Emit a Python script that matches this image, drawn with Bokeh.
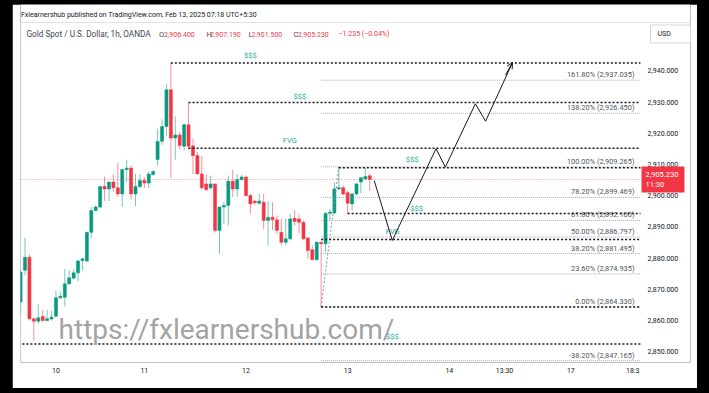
from bokeh.plotting import figure
from bokeh.models import (ColumnDataSource, FixedTicker, NumeralTickFormatter, Label,
                          Arrow, OpenHead, Range1d)
from bokeh.core.properties import value
from bokeh.embed import file_html
from bokeh.resources import INLINE

# ---------------- data ----------------
bar_index = list(range(-1, 79))
opens = [2866.0, 2876.1, 2880.3, 2860.6, 2859.8, 2861.3, 2860.0, 2860.5, 2861.4, 2867.3,
         2867.5, 2871.8, 2873.6, 2875.3, 2879.3, 2879.1, 2888.3, 2895.3, 2896.4, 2903.0,
         2902.2, 2904.4, 2902.6, 2900.6, 2908.4, 2908.9, 2900.6, 2903.0, 2904.9, 2904.1,
         2906.8, 2911.6, 2917.5, 2922.2, 2934.0, 2918.5, 2919.5, 2915.9, 2922.8, 2916.0,
         2912.9, 2907.0, 2903.8, 2902.6, 2903.8, 2888.9, 2896.4, 2896.9, 2904.7, 2902.2,
         2905.2, 2906.0, 2900.1, 2898.3, 2897.6, 2897.9, 2892.1, 2893.1, 2892.3, 2888.3,
         2885.1, 2886.2, 2892.8, 2892.6, 2891.5, 2886.5, 2882.7, 2879.5, 2885.1, 2884.6,
         2894.4, 2894.5, 2902.2, 2902.6, 2901.0, 2897.4, 2900.6, 2904.4, 2905.4, 2906.4]
highs = [2876.6, 2886.5, 2881.2, 2860.9, 2865.2, 2863.5, 2863.5, 2863.2, 2869.7, 2869.4,
         2876.6, 2876.1, 2876.4, 2879.5, 2880.1, 2888.3, 2896.4, 2896.9, 2903.0, 2906.2,
         2904.4, 2906.8, 2910.6, 2908.6, 2911.6, 2909.7, 2907.0, 2906.8, 2906.0, 2907.8,
         2908.1, 2921.5, 2924.5, 2935.9, 2942.6, 2925.4, 2920.4, 2923.1, 2929.9, 2918.3,
         2914.0, 2912.9, 2906.8, 2906.5, 2903.9, 2896.4, 2898.0, 2906.5, 2908.4, 2907.0,
         2906.7, 2906.5, 2900.6, 2898.5, 2900.6, 2900.6, 2898.3, 2897.9, 2893.7, 2892.6,
         2892.6, 2894.2, 2895.5, 2894.0, 2892.1, 2886.7, 2884.1, 2885.5, 2885.4, 2894.6,
         2895.8, 2904.4, 2909.27, 2903.3, 2901.7, 2900.8, 2904.1, 2906.0, 2908.9, 2907.19]
lows = [2862.2, 2874.5, 2860.0, 2853.4, 2859.0, 2859.5, 2859.8, 2860.0, 2861.1, 2867.0,
        2864.5, 2871.3, 2873.4, 2872.6, 2876.1, 2878.7, 2886.5, 2895.0, 2896.1, 2898.3,
        2898.3, 2901.2, 2899.6, 2896.4, 2904.4, 2898.8, 2896.7, 2902.5, 2902.5, 2902.5,
        2906.5, 2909.7, 2916.3, 2919.3, 2905.7, 2911.6, 2914.8, 2914.5, 2914.8, 2907.0,
        2907.0, 2901.9, 2901.7, 2901.9, 2888.3, 2881.4, 2891.0, 2890.5, 2899.6, 2899.8,
        2904.9, 2899.6, 2894.2, 2897.0, 2897.2, 2889.4, 2884.1, 2889.0, 2887.8, 2884.1,
        2884.1, 2885.7, 2890.5, 2888.0, 2885.7, 2879.8, 2879.5, 2879.3, 2864.33, 2881.9,
        2892.1, 2894.2, 2901.9, 2900.1, 2894.3, 2895.3, 2900.1, 2900.8, 2905.1, 2901.5]
closes = [2875.5, 2880.3, 2860.6, 2859.8, 2860.9, 2860.0, 2860.6, 2861.1, 2867.3, 2867.8,
          2871.8, 2873.7, 2875.3, 2879.1, 2879.8, 2888.3, 2895.3, 2896.4, 2903.0, 2902.2,
          2904.4, 2902.6, 2900.6, 2908.4, 2908.9, 2900.6, 2903.0, 2904.9, 2904.1, 2907.0,
          2907.8, 2917.4, 2922.2, 2934.0, 2918.5, 2919.5, 2916.1, 2922.8, 2915.9, 2912.9,
          2907.0, 2902.6, 2901.9, 2903.8, 2888.9, 2896.4, 2896.9, 2904.7, 2902.2, 2905.2,
          2906.0, 2900.1, 2897.4, 2897.8, 2898.3, 2892.1, 2893.1, 2892.3, 2888.9, 2885.1,
          2886.2, 2892.6, 2891.8, 2891.5, 2886.2, 2882.5, 2879.5, 2885.1, 2884.6, 2894.4,
          2894.8, 2902.2, 2902.6, 2900.6, 2897.6, 2900.6, 2903.8, 2905.8, 2906.2, 2905.23]

price_ticks = [2850, 2860, 2870, 2880, 2890, 2900, 2910, 2920, 2930, 2940]
time_tick_pos = [7, 27, 50, 73, 96, 108.5, 123.5, 137.5]
time_tick_labels = ["10", "11", "12", "13", "14", "13:30", "17", "18:3"]

fib_ratios = ["161.80%", "138.20%", "100.00%", "78.20%", "61.80%", "50.00%",
              "38.20%", "23.60%", "0.00%", "-38.20%"]
fib_prices = [2937.035, 2926.450, 2909.265, 2899.469, 2892.100, 2886.797,
              2881.495, 2874.935, 2864.330, 2847.165]
fib_anchor_bar = 67
fib_anchor_top_bar = 71

level_prices = [2942.6, 2929.9, 2915.2, 2909.0, 2894.3, 2886.0, 2864.33, 2852.5]
level_start_bar = [33, 37, 37, 71, 73, 67, 67, -1.5]

tag_texts = ["$$$", "$$$", "FVG", "$$$", "$$$", "FVG", "$$$"]
tag_bar = [51, 62.2, 59.9, 87.6, 88.6, 83.2, 83.1]
tag_price = [2943.4, 2930.5, 2916.4, 2910.2, 2894.6, 2887.1, 2853.6]

proj_bar = [79.0, 83.1, 93.0, 95.1, 101.9, 104.2, 110.3]
proj_price = [2904.9, 2885.7, 2915.1, 2909.2, 2929.5, 2923.9, 2942.7]

last_price = 2905.23
ohlc_header = ["2,906.400", "2,907.190", "2,901.500", "2,905.230"]

# ---------------- figure ----------------
UP = "#089981"
DOWN = "#f23645"
FONT = "Roboto"
X_LEFT = -1.02
X_RIGHT = 139.25      # right edge of the price pane
X_END = 150.57        # right edge of the white panel
Y_BOTTOM = 2846.57
Y_TOP = 2961.31
Y_CONTAINER = 2955.54

p = figure(width=685, height=384,
           x_range=Range1d(X_LEFT, X_END), y_range=Range1d(Y_BOTTOM, Y_TOP),
           output_backend="svg", toolbar_location=None, y_axis_location="right",
           min_border_left=8, min_border_right=7, min_border_top=0, min_border_bottom=26,
           background_fill_color="white", border_fill_color="white")
p.xgrid.visible = False
p.ygrid.visible = False
p.outline_line_color = None

p.yaxis.fixed_location = X_RIGHT
p.yaxis.ticker = FixedTicker(ticks=price_ticks)
p.yaxis.formatter = NumeralTickFormatter(format="0,0.000")
p.xaxis.ticker = FixedTicker(ticks=time_tick_pos)
p.xaxis.major_label_overrides = {k: v for k, v in zip(time_tick_pos, time_tick_labels)}
for ax in (p.xaxis[0], p.yaxis[0]):
    ax.axis_line_color = None
    ax.major_tick_line_color = None
    ax.minor_tick_line_color = None
    ax.major_tick_out = 0
    ax.major_tick_in = 0
    ax.minor_tick_out = 0
    ax.major_label_text_font_size = "7px"
    ax.major_label_text_font = FONT
    ax.major_label_text_color = "#131722"
p.yaxis.major_label_standoff = 7
p.xaxis.major_label_standoff = 4

# container lines
p.segment(x0=[X_LEFT, X_LEFT + 0.05], y0=[Y_CONTAINER, Y_BOTTOM],
          x1=[X_END, X_LEFT + 0.05], y1=[Y_CONTAINER, Y_CONTAINER],
          line_color="#e0e3eb", line_width=1)

# candles
colors = [UP if c >= o else DOWN for o, c in zip(opens, closes)]
tops = [max(o, c) for o, c in zip(opens, closes)]
bots = [min(o, c) for o, c in zip(opens, closes)]
bots = [b - 0.25 if t - b < 0.25 else b for t, b in zip(tops, bots)]
src = ColumnDataSource(dict(x=bar_index, h=highs, l=lows, top=tops, bot=bots, color=colors))
p.segment(x0="x", y0="h", x1="x", y1="l", source=src, line_color="color",
          line_alpha=0.55, line_width=1)
p.vbar(x="x", top="top", bottom="bot", width=0.7, source=src,
       fill_color="color", line_color="color", line_width=0.5)

# current price line
p.segment(x0=[X_LEFT], y0=[last_price], x1=[X_RIGHT], y1=[last_price], line_color=DOWN,
          line_alpha=0.6, line_dash="1 2", line_width=1)

# fib levels
n = len(fib_prices)
p.segment(x0=[fib_anchor_bar] * n, y0=fib_prices, x1=[X_RIGHT] * n, y1=fib_prices,
          line_color="#9598a1", line_alpha=0.8, line_dash="1 1", line_width=1)
fib_text = [f"{r} ({v:,.3f})" for r, v in zip(fib_ratios, fib_prices)]
p.text(x=[137.9] * n, y=fib_prices, text=fib_text, text_align="right",
       text_baseline="bottom", y_offset=-1, text_font_size="7.4px",
       text_font=value(FONT), text_color="#50535e")
p.line([fib_anchor_bar, fib_anchor_top_bar], [fib_prices[8], fib_prices[2]],
       line_color="#8a8d96", line_dash="2 2", line_width=1)

# black dotted key levels
m = len(level_prices)
p.segment(x0=level_start_bar, y0=level_prices, x1=[X_RIGHT] * m, y1=level_prices,
          line_color="#131722", line_dash="2 2", line_width=1.5)

# level tags
p.text(x=tag_bar, y=tag_price, text=tag_texts, text_align="center",
       text_baseline="bottom", text_font_size="7.5px", text_font=value(FONT),
       text_color="#22ab94")

# projection path
p.line(proj_bar, proj_price, line_color="#131722", line_width=1)
p.add_layout(Arrow(end=OpenHead(size=6, line_color="#131722", line_width=1),
                   x_start=proj_bar[-2] + 4.5, y_start=proj_price[-1] - 4.0,
                   x_end=proj_bar[-1], y_end=proj_price[-1],
                   line_color="#131722", line_width=1))

# watermark
p.add_layout(Label(x=7.6, y=2857.1, text="https://fxlearnershub.com/", text_font=FONT,
                   text_font_size="28px", text_color="#a3a3a3",
                   text_baseline="alphabetic"))

# price tag
p.add_layout(Label(x=621, y=last_price, x_units="screen", y_units="data",
                   text="2,905.230\n11:30", text_font=FONT, text_font_size="7.5px",
                   text_color="white", text_baseline="middle", text_align="left",
                   background_fill_color=DOWN, padding=dict(left=4, right=6, top=3, bottom=3)))

# header
p.add_layout(Label(x=0.5, y=348, x_units="screen", y_units="screen",
                   text="Fxlearnershub published on TradingView.com, Feb 13, 2025 07:18 UTC+5:30",
                   text_font=FONT, text_font_size="7px", text_color="#131722",
                   text_baseline="middle"))
hdr_texts = ["Gold Spot / U.S. Dollar, 1h, OANDA", "O", ohlc_header[0], "H", ohlc_header[1],
             "L", ohlc_header[2], "C", ohlc_header[3], "\u22121.235 (\u22120.04%)"]
hdr_x = [6, 138.5, 143.5, 186, 189.5, 228, 231, 273, 277.5, 318]
hdr_size = ["8.2px", "7.5px", "7px", "7.5px", "7px", "7.5px", "7px", "7.5px", "7px", "7px"]
hdr_col = ["#434651", "#434651", DOWN, "#434651", DOWN, "#434651", DOWN, "#434651", DOWN, DOWN]
for t, xx, ss, cc in zip(hdr_texts, hdr_x, hdr_size, hdr_col):
    p.add_layout(Label(x=xx, y=328.5, x_units="screen", y_units="screen", text=t,
                       text_font=FONT, text_font_size=ss, text_color=cc,
                       text_baseline="middle"))
p.add_layout(Label(x=630, y=328.5, x_units="screen", y_units="screen", text="USD",
                   text_font=FONT, text_font_size="7px", text_color="#131722",
                   text_baseline="middle", border_line_color="#d1d4dc",
                   background_fill_color="white",
                   padding=dict(left=7, right=20, top=5, bottom=5)))

html = file_html(p, INLINE)
i = html.rfind("<body>")
if i >= 0:
    html = html[:i] + '<body style="margin:0;padding:4px 0 0 12px;background:#000;">' + html[i + 6:]
open("out.html", "w").write(html)
